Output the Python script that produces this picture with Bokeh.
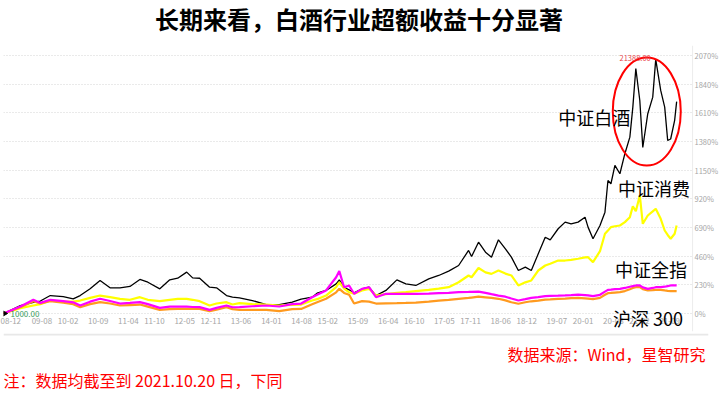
import numpy as np
import pandas as pd
from bokeh.plotting import figure
from bokeh.layouts import column
from bokeh.models import (FixedTicker, DatetimeTickFormatter, PrintfTickFormatter,
                          Label, Range1d, Span)
from bokeh.embed import file_html
from bokeh.resources import INLINE

# ---------------- data (cumulative return, %, base 1000 on 2008-11-04) ----------------
dates = [
    "2008-11-04", "2009-03-03", "2009-06-02", "2009-07-21", "2009-09-29", "2009-12-29",
    "2010-03-09", "2010-04-27", "2010-07-06", "2010-09-14", "2010-11-23", "2011-02-01",
    "2011-04-12", "2011-06-21", "2011-08-16", "2011-11-08", "2012-01-17", "2012-03-13",
    "2012-05-15", "2012-06-26", "2012-08-14", "2012-10-23", "2012-12-11", "2013-02-19",
    "2013-04-02", "2013-05-21", "2013-08-20", "2013-11-26", "2014-02-25", "2014-05-27",
    "2014-07-29", "2014-10-14", "2014-11-18", "2015-01-20", "2015-04-01", "2015-04-23",
    "2015-05-27", "2015-07-01", "2015-08-05", "2015-09-30", "2015-11-18", "2016-01-06",
    "2016-03-16", "2016-06-01", "2016-08-03", "2016-10-12", "2017-01-11", "2017-03-22",
    "2017-05-31", "2017-08-09", "2017-10-18", "2017-11-08", "2017-12-27", "2018-02-14",
    "2018-03-28", "2018-05-16", "2018-07-04", "2018-08-15", "2018-10-03", "2018-11-21",
    "2019-01-02", "2019-02-20", "2019-04-10", "2019-05-15", "2019-07-10", "2019-08-28",
    "2019-10-09", "2019-11-27", "2020-01-15", "2020-02-05", "2020-03-11", "2020-04-29",
    "2020-06-03", "2020-06-24", "2020-07-15", "2020-08-12", "2020-09-16", "2020-10-21",
    "2020-11-25", "2020-12-16", "2021-01-06", "2021-02-03", "2021-02-24", "2021-03-31",
    "2021-05-05", "2021-05-26", "2021-06-30", "2021-07-28", "2021-08-18", "2021-09-08",
    "2021-10-06", "2021-10-20",
]

baijiu = [  # 中证白酒
    0, 64, 90, 100, 144, 136, 118, 144, 198, 265,
    206, 206, 217, 273, 251, 198, 270, 283, 332, 286,
    283, 211, 206, 144, 131, 126, 104, 72, 72, 91,
    115, 131, 163, 185, 238, 270, 210, 190, 165, 198,
    211, 144, 185, 270, 238, 225, 278, 305, 340, 385,
    506, 457, 572, 492, 452, 591, 519, 452, 345, 372,
    345, 479, 612, 591, 680, 733, 720, 733, 773, 693,
    600, 706, 813, 1067, 1041, 1188, 1121, 1282, 1415, 1656,
    1966, 1709, 1332, 1603, 1736, 2038.8, 1790, 1656, 1388, 1400,
    1550, 1700,
]

xiaofei = [  # 中证消费
    0, 43, 64, 75, 104, 95, 95, 104, 125, 144,
    131, 118, 110, 131, 110, 99, 110, 118, 118, 110,
    99, 64, 80, 91, 72, 83, 75, 72, 64, 70,
    72, 104, 115, 144, 211, 251, 200, 170, 158, 185,
    198, 144, 155, 165, 171, 180, 190, 200, 211, 251,
    305, 291, 365, 330, 318, 345, 320, 305, 225, 250,
    265, 345, 385, 399, 425, 425, 430, 439, 450, 452,
    412, 500, 640, 666, 693, 700, 706, 733, 773, 860,
    820, 947, 720, 786, 820, 840, 760, 666, 630, 600,
    640, 706,
]

quanzhi = [  # 中证全指
    0, 56, 110, 85, 110, 100, 90, 64, 95, 118,
    100, 80, 85, 91, 75, 45, 55, 56, 55, 52,
    51, 29, 45, 64, 50, 51, 58, 64, 56, 75,
    80, 131, 150, 185, 291, 340, 211, 225, 158, 198,
    211, 131, 158, 158, 158, 158, 160, 163, 165, 171,
    173, 174, 176, 165, 155, 144, 135, 120, 104, 115,
    125, 131, 140, 142, 144, 146, 148, 151, 148, 146,
    140, 150, 175, 190, 192, 195, 198, 205, 215, 220,
    225, 225, 210, 198, 205, 211, 211, 215, 220, 225,
    225, 225,
]

hs300 = [  # 沪深300
    0, 51, 99, 80, 99, 86, 75, 51, 75, 91,
    80, 64, 68, 72, 55, 29, 35, 37, 37, 37,
    37, 19, 30, 51, 35, 29, 29, 29, 19, 35,
    37, 75, 91, 118, 170, 198, 165, 150, 80, 99,
    95, 80, 82, 83, 85, 88, 95, 104, 110, 118,
    125, 128, 135, 130, 125, 118, 105, 90, 78, 90,
    98, 104, 112, 114, 118, 120, 124, 126, 122, 120,
    115, 125, 150, 163, 165, 168, 171, 180, 195, 205,
    211, 211, 195, 185, 188, 190, 190, 185, 182, 180,
    180, 180,
]

series_names = ["中证白酒", "中证消费", "中证全指", "沪深 300"]

x_tick_labels = ["08-12", "09-08", "10-02", "10-09", "11-04", "11-10", "12-05", "12-11",
                 "13-06", "14-01", "14-08", "15-02", "15-09", "16-04", "16-10", "17-05",
                 "17-11", "18-06", "18-12", "19-07", "20-01", "20-08", "21-02", "21-09"]
y_ticks = [0, 230, 460, 690, 920, 1150, 1380, 1610, 1840, 2070]

title_text = "长期来看，白酒行业超额收益十分显著"
source_text = "数据来源：Wind，星智研究"
note_text = "注：数据均截至到 2021.10.20 日，下同"
base_value = 1000.0


def ms(s):
    return pd.Timestamp(s).timestamp() * 1000.0


dt = pd.to_datetime(dates)
CJK = "Noto Sans CJK SC"
W = 721
BL, BR = 3, 10          # left / right borders shared by all three figures
axis_end = "2022-02-09"  # where the value axis line sits

xr = Range1d(ms("2008-11-04"), ms("2022-06-01"))


def text_strip(height):
    f = figure(width=W, height=height, output_backend="svg", toolbar_location=None,
               x_range=xr, y_range=Range1d(0, height),
               x_axis_location=None, y_axis_location=None,
               min_border_left=BL, min_border_right=BR,
               min_border_top=0, min_border_bottom=0)
    f.outline_line_color = None
    f.xgrid.visible = False
    f.ygrid.visible = False
    return f


# ---------------- title strip ----------------
ft = text_strip(45)
ft.add_layout(Label(x=ms("2015-09-09"), y=27.5, text=title_text, text_align="center",
                    text_baseline="middle", text_font_size="24px", text_font_style="bold",
                    text_color="black", text_font=CJK))

# ---------------- main chart ----------------
p = figure(width=W, height=288, output_backend="svg", toolbar_location=None,
           x_axis_type="datetime", y_axis_location="right",
           x_range=xr, y_range=Range1d(-144.4, 2150.2),
           min_border_left=BL, min_border_top=0, min_border_bottom=2,
           min_border_right=BR)
p.outline_line_color = None

tick_ms = [ms("20" + t[:2] + "-" + t[3:] + "-01") for t in x_tick_labels]
p.xaxis.ticker = FixedTicker(ticks=tick_ms)
fmt = "%y-%m"
p.xaxis.formatter = DatetimeTickFormatter(years=fmt, months=fmt, days=fmt, hours=fmt,
                                          minutes=fmt, seconds=fmt, milliseconds=fmt,
                                          minsec=fmt, hourmin=fmt, context=None)
p.xaxis.axis_line_color = None
p.xaxis.major_tick_line_color = None
p.xaxis.minor_tick_line_color = None
p.xaxis.major_tick_out = 0
p.xaxis.major_tick_in = 0
p.xaxis.major_label_text_font_size = "8px"
p.xaxis.major_label_text_color = "#a6a6a6"
p.xaxis.major_label_text_font = CJK
p.xaxis.major_label_standoff = -14

p.yaxis.ticker = FixedTicker(ticks=y_ticks)
p.yaxis.formatter = PrintfTickFormatter(format="%d%%")
p.yaxis.axis_line_color = None
p.yaxis.major_tick_line_color = None
p.yaxis.minor_tick_line_color = None
p.yaxis.major_tick_out = 0
p.yaxis.major_tick_in = 0
p.yaxis.major_label_text_font_size = "7.5px"
p.yaxis.major_label_text_color = "#a6a6a6"
p.yaxis.major_label_text_font = CJK
p.yaxis.major_label_standoff = -14

p.xgrid.visible = False
p.ygrid.grid_line_color = "#d4d4d4"
p.ygrid.grid_line_dash = "1 2"
p.ygrid.grid_line_width = 1
for g in p.ygrid:
    if "cross_bounds" in g.properties():
        g.cross_bounds = (ms(dates[0]), ms(axis_end))
p.add_layout(Span(location=ms(axis_end), dimension="height", line_color="#ececec",
                  line_width=1))

p.line(dt, baijiu, line_color="#000000", line_width=1.3)
p.line(dt, xiaofei, line_color="#FFFF00", line_width=2.2)
p.line(dt, hs300, line_color="#FF9A1F", line_width=2.2)
p.line(dt, quanzhi, line_color="#FF00FF", line_width=2.2)

p.scatter(x=[dt[0]], y=[baijiu[0]], marker="triangle", angle=-np.pi / 2, size=7,
          fill_color="black", line_color="black")
p.add_layout(Label(x=ms(dates[0]), y=baijiu[0], text=f"{base_value:.2f}", x_offset=7,
                   text_baseline="middle", text_font_size="8px", text_color="#3A9D5D",
                   text_font=CJK))

ip = int(np.argmax(baijiu))
peak_level = base_value * (1 + baijiu[ip] / 100.0)
p.add_layout(Label(x=ms(dates[ip]), y=baijiu[ip], text=f"{peak_level:.2f}", x_offset=-5,
                   y_offset=1, text_align="right", text_baseline="middle",
                   text_font_size="7.5px", text_color="#E8454A", text_font=CJK))

p.ellipse(x=[ms("2021-03-24")], y=[1620], width=68, height=108, width_units="screen",
          height_units="screen", fill_color=None, line_color="#FF0000", line_width=2)

label_pos = [("2019-07-10", 1575), ("2020-09-02", 1008), ("2020-08-12", 358),
             ("2020-07-29", -40)]
for name, (d, yv) in zip(series_names, label_pos):
    p.add_layout(Label(x=ms(d), y=yv, text=name, text_align="left", text_baseline="middle",
                       text_font_size="18px", text_color="black", text_font=CJK))

# ---------------- footer strip ----------------
fb = text_strip(60)
fb.add_layout(Span(location=59, dimension="width", line_color="#e8e8e8", line_width=2))
fb.add_layout(Label(x=ms("2022-05-11"), y=40, text=source_text, text_align="right",
                    text_baseline="middle", text_font_size="16px", text_color="#FF0000",
                    text_font=CJK))
fb.add_layout(Label(x=ms("2008-11-04"), y=14, text=note_text, text_align="left",
                    text_baseline="middle", text_font_size="16px", text_color="#FF0000",
                    text_font=CJK))

layout = column(ft, p, fb, spacing=0)
open("out.html", "w").write(file_html(layout, INLINE))
